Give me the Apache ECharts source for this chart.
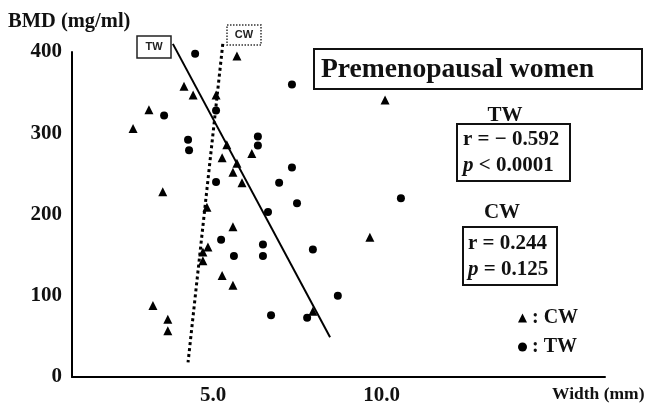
<!DOCTYPE html>
<html>
<head>
<meta charset="utf-8">
<script src="https://cdn.jsdelivr.net/npm/echarts@6/dist/echarts.min.js"></script>
<style>html,body{margin:0;padding:0;background:#fff;}#c{width:646px;height:406px;}</style>
</head>
<body>
<div id="c"></div>
<script>
// CW (triangles): width (mm), BMD (mg/ml)
const cwWidth = [5.71,4.14,4.41,5.09,3.10,2.63,5.41,6.15,5.27,5.71,5.59,5.86,3.51,4.82,5.59,4.85,4.70,4.70,5.27,5.59,3.22,3.66,3.66,10.1,9.65,7.96];
const cwBmd   = [395,358,347,347,329,306,286,275,270,263,252,239,228,209,185,160,154,143,125,113,88,71,57,341,172,81];
// TW (circles)
const twWidth = [4.47,5.09,3.55,4.26,4.29,6.33,6.33,5.09,6.96,7.34,7.34,7.49,6.63,5.24,5.62,6.48,6.48,7.96,8.70,6.72,7.79,10.57];
const twBmd   = [398,328,322,292,279,296,285,240,239,258,360,214,203,169,149,163,149,157,100,76,73,220];
// regression lines
const twLineX = [3.81, 8.47];
const twLineY = [410, 49];
const cwLineX = [5.29, 4.26];
const cwLineY = [410, 18];
// ticks
const xTickValues = [5, 10];
const yTickInterval = 100;

const pairs = (xs, ys) => xs.map((x, i) => [x, ys[i]]);
const serif = '"Liberation Serif", "Times New Roman", serif';
const sans = '"Liberation Sans", Arial, sans-serif';

const chart = echarts.init(document.getElementById('c'));
chart.setOption({
  animation: false,
  backgroundColor: '#fff',
  grid: { left: 72, right: 41, top: 52, bottom: 27 },
  xAxis: {
    type: 'value', min: 0.82, max: 16.62,
    axisLine: { show: true, lineStyle: { color: '#000', width: 2 } },
    axisTick: { show: false },
    splitLine: { show: false },
    axisLabel: { customValues: xTickValues, formatter: v => v.toFixed(1), color: '#111',
      fontFamily: serif, fontWeight: 'bold', fontSize: 21, margin: 8 }
  },
  yAxis: {
    type: 'value', min: 0, max: 400, interval: yTickInterval,
    axisLine: { show: true, lineStyle: { color: '#000', width: 2 } },
    axisTick: { show: false },
    splitLine: { show: false },
    axisLabel: { color: '#111', fontFamily: serif, fontWeight: 'bold', fontSize: 21, margin: 10 }
  },
  legend: {
    data: ['CW', 'TW'], orient: 'vertical', left: 513, top: 303,
    itemWidth: 9, itemHeight: 9, itemGap: 9,
    formatter: n => ': ' + n,
    textStyle: { color: '#111', fontFamily: serif, fontWeight: 'bold', fontSize: 20, lineHeight: 20 }
  },
  series: [
    { name: 'CW', type: 'scatter', symbol: 'triangle', symbolSize: 9,
      itemStyle: { color: '#000', opacity: 1 }, data: pairs(cwWidth, cwBmd) },
    { name: 'TW', type: 'scatter', symbol: 'circle', symbolSize: 8,
      itemStyle: { color: '#000', opacity: 1 }, data: pairs(twWidth, twBmd) },
    { name: 'TW line', type: 'line', symbol: 'none', clip: false,
      lineStyle: { color: '#000', width: 2 }, data: pairs(twLineX, twLineY) },
    { name: 'CW line', type: 'line', symbol: 'none', clip: false,
      lineStyle: { color: '#000', width: 3, type: 'dotted' }, data: pairs(cwLineX, cwLineY) }
  ],
  graphic: [
    { type: 'text', left: 8, top: 11, style: { text: 'BMD (mg/ml)', fill: '#111', font: 'bold 20.5px ' + serif } },
    { type: 'text', left: 552, top: 385, style: { text: 'Width (mm)', fill: '#111', font: 'bold 17.5px ' + serif } },
    // TW / CW line tags
    { type: 'rect', shape: { x: 137, y: 36, width: 34, height: 22 }, style: { fill: '#fff', stroke: '#222', lineWidth: 1.5 } },
    { type: 'text', x: 154, y: 47, style: { text: 'TW', fill: '#222', font: 'bold 11px ' + sans, align: 'center', verticalAlign: 'middle' } },
    { type: 'rect', shape: { x: 227, y: 25, width: 34, height: 20 }, style: { fill: '#fff', stroke: '#333', lineWidth: 1.5, lineDash: [1.5, 1.5] } },
    { type: 'text', x: 244, y: 35, style: { text: 'CW', fill: '#222', font: 'bold 11px ' + sans, align: 'center', verticalAlign: 'middle' } },
    // title box
    { type: 'rect', shape: { x: 314, y: 49, width: 328, height: 40 }, style: { fill: '#fff', stroke: '#111', lineWidth: 2 } },
    { type: 'text', x: 321, y: 70, style: { text: 'Premenopausal women', fill: '#111', font: 'bold 27.6px ' + serif, verticalAlign: 'middle' } },
    // TW stats
    { type: 'text', x: 505, y: 116, style: { text: 'TW', fill: '#111', font: 'bold 21px ' + serif, align: 'center', verticalAlign: 'middle' } },
    { type: 'rect', shape: { x: 457, y: 124, width: 113, height: 57 }, style: { fill: '#fff', stroke: '#111', lineWidth: 2 } },
    { type: 'text', x: 463, y: 140, style: { text: 'r = \u2212 0.592', fill: '#111', font: 'bold 21px ' + serif, verticalAlign: 'middle' } },
    { type: 'text', x: 463, y: 166, style: { text: '{i|p} < 0.0001', fill: '#111', font: 'bold 21px ' + serif, verticalAlign: 'middle',
      rich: { i: { fontStyle: 'italic', fontWeight: 'bold', fontSize: 21, fontFamily: serif, fill: '#111' } } } },
    // CW stats
    { type: 'text', x: 502, y: 213, style: { text: 'CW', fill: '#111', font: 'bold 21px ' + serif, align: 'center', verticalAlign: 'middle' } },
    { type: 'rect', shape: { x: 463, y: 227, width: 94, height: 58 }, style: { fill: '#fff', stroke: '#111', lineWidth: 2 } },
    { type: 'text', x: 468, y: 244, style: { text: 'r = 0.244', fill: '#111', font: 'bold 21px ' + serif, verticalAlign: 'middle' } },
    { type: 'text', x: 468, y: 270, style: { text: '{i|p} = 0.125', fill: '#111', font: 'bold 21px ' + serif, verticalAlign: 'middle',
      rich: { i: { fontStyle: 'italic', fontWeight: 'bold', fontSize: 21, fontFamily: serif, fill: '#111' } } } }
  ]
});
</script>
</body>
</html>
